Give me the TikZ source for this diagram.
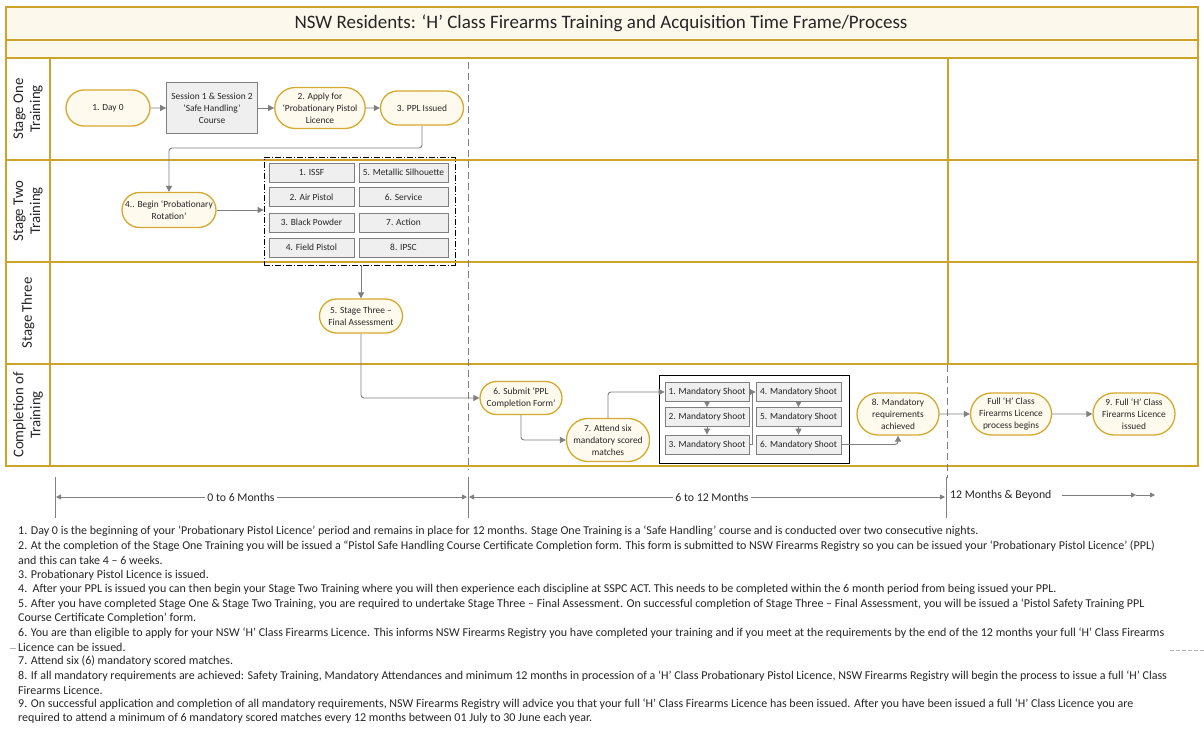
\documentclass[tikz,border=0pt]{standalone}
\usepackage{fontspec}
\usepackage{graphicx}
\setmainfont{Carlito}
\usetikzlibrary{arrows.meta,shapes.misc,calc}
\definecolor{gold}{HTML}{CDA42A}
\definecolor{ngold}{HTML}{D4A930}
\definecolor{cream}{HTML}{FDF8EC}
\definecolor{ncream}{HTML}{FFFAEE}
\definecolor{agray}{HTML}{7F7F7F}
\definecolor{bfill}{HTML}{EFEFEF}
\definecolor{txt}{HTML}{262626}
\tikzset{
  stad/.style={rounded rectangle, draw=ngold, fill=ncream, line width=1.3pt, inner sep=1pt, align=center, text=txt, font=\fontsize{9.4}{12}\selectfont},
  gbox/.style={rectangle, draw=agray, fill=bfill, line width=0.8pt, inner sep=1pt, align=center, text=txt, font=\fontsize{9.4}{12}\selectfont},
  mbox/.style={gbox, minimum height=19pt},
  arr/.style={draw=agray, line width=0.9pt, -{Triangle[length=6pt,width=6pt]}},
  conn/.style={arr, rounded corners=3pt},
  lane/.style={draw=gold, line width=1.7pt},
  lanelbl/.style={rotate=90, align=center, text=txt, font=\fontsize{14.8}{17}\selectfont},
  note/.style={anchor=west, inner sep=0pt, text=txt, font=\fontsize{12}{14}\selectfont},
  tl/.style={text=txt, inner sep=2pt, font=\fontsize{11.8}{13}\selectfont},
  tick/.style={draw=agray, line width=0.6pt},
  tlarr/.style={draw=agray, line width=0.8pt, -{Triangle[length=5pt,width=5pt]}}
}
\begin{document}
\begin{tikzpicture}[x=1pt,y=-1pt]
\useasboundingbox (0,0) rectangle (1204,736);
\fill[white] (0,0) rectangle (1204,736);
% pool
\draw[lane, fill=cream] (6,7) rectangle (1198,40);
\draw[lane, fill=cream] (6,40) rectangle (1198,58);
\node[text=txt, font=\fontsize{19}{21}\selectfont] (title) at (601,23) {NSW Residents: ‘H’ Class Firearms Training and Acquisition Time Frame/Process};
\draw[lane] (6,58) rectangle (1198,466);
\draw[lane] (6,160) -- (1198,160);
\draw[lane] (6,262) -- (1198,262);
\draw[lane] (6,364) -- (1198,364);
\draw[lane] (50,58) -- (50,466);
\draw[lane] (948,58) -- (948,364);
\draw[agray, line width=0.7pt, dash pattern=on 7pt off 4pt] (947,365) -- (947,478);
\draw[agray, line width=0.7pt, dash pattern=on 7pt off 4pt] (468,62) -- (468,470);
\node[lanelbl] (L1) at (28,109) {Stage One\\Training};
\node[lanelbl] (L2) at (28,211) {Stage Two\\Training};
\node[lanelbl] (L3) at (28,313) {Stage Three};
\node[lanelbl] (L4) at (28,415) {Completion of\\Training};
% stage one
\node[stad, minimum width=86pt, minimum height=36pt] (n1) at (108,108) {1. Day 0};
\node[gbox, minimum width=91pt, minimum height=51pt] (sess) at (212,108) {Session 1 \& Session 2\\‘Safe Handling’\\Course};
\node[stad, minimum width=84pt, minimum height=41pt] (n2) at (320,108) {2. Apply for\\‘Probationary Pistol\\Licence};
\node[stad, minimum width=85pt, minimum height=34pt] (n3) at (422,108) {3. PPL Issued};
\draw[arr] (n1) -- (sess);
\draw[arr] (sess) -- (n2);
\draw[arr] (n2) -- (n3);
% stage two
\node[stad, minimum width=96pt, minimum height=35pt] (n4) at (169,210) {4.. Begin ‘Probationary\\Rotation’};
\coordinate (c1) at (0,148);
\draw[conn] (n3.south) -- (n3.south |- c1) -- (n4.north |- c1) -- (n4.north);
\node[draw=black, line width=0.8pt, dash pattern=on 6pt off 2pt on 1pt off 2pt, minimum width=191pt, minimum height=108pt, inner sep=0pt] (grp) at (359.5,211) {};
\foreach \t/\x/\y/\w [count=\i] in {1. ISSF/311.5/172.5/85, 2. Air Pistol/311.5/197/85, 3. Black Powder/311.5/222.5/85, 4. Field Pistol/311.5/247.5/85, 5. Metallic Silhouette/403.5/172.5/89, 6. Service/403.5/197/89, 7. Action/403.5/222.5/89, 8. IPSC/403.5/247.5/89}
  \node[gbox, minimum width=\w pt, minimum height=19pt] (g\i) at (\x,\y) {\t};
\draw[arr] (n4.east) -- (grp.west |- n4.east);
% stage three
\node[stad, minimum width=85pt, minimum height=34pt] (n5) at (361,316) {5. Stage Three –\\Final Assessment};
\draw[arr] (grp.south -| n5) -- (n5.north);
% completion
\node[stad, minimum width=84pt, minimum height=33pt] (n6) at (521,398) {6. Submit ‘PPL\\Completion Form’};
\node[stad, minimum width=85pt, minimum height=43pt] (n7) at (608,440) {7. Attend six\\mandatory scored\\matches};
\draw[conn] (n5.south) |- (n6.west);
\draw[conn] (n6.south) |- (n7.west);
\node[draw=black, line width=0.8pt, minimum width=190pt, minimum height=88pt, inner sep=0pt] (mgrp) at (754,419) {};
\node[mbox, minimum width=84pt] (m1) at (707,392) {1. Mandatory Shoot};
\node[mbox, minimum width=84pt] (m2) at (707,417) {2. Mandatory Shoot};
\node[mbox, minimum width=84pt] (m3) at (707,444.5) {3. Mandatory Shoot};
\node[mbox, minimum width=85pt] (m4) at (798.5,392) {4. Mandatory Shoot};
\node[mbox, minimum width=85pt] (m5) at (798.5,417) {5. Mandatory Shoot};
\node[mbox, minimum width=85pt] (m6) at (798.5,444.5) {6. Mandatory Shoot};
\draw[conn] (n7.north) |- (m1.west);
\draw[arr] (m1) -- (m2);
\draw[arr] (m2) -- (m3);
\draw[arr] (m4) -- (m5);
\draw[arr] (m5) -- (m6);
\coordinate (c2) at (752.5,0);
\draw[arr] (m3.east) -- (m3.east -| c2) -- (m4.west -| c2) -- (m4.west);
\node[stad, minimum width=84pt, minimum height=42pt] (n8) at (898,414) {8. Mandatory\\requirements\\achieved};
\draw[conn] (m6.east) -| (n8.south);
\node[stad, minimum width=74pt, minimum height=42pt] (n9a) at (1011,414) {Full ‘H’ Class\\Firearms Licence\\process begins};
\node[stad, minimum width=84pt, minimum height=42pt] (n9) at (1134,414) {9. Full ‘H’ Class\\Firearms Licence\\issued};
\draw[arr] (n8) -- (n9a);
\draw[arr] (n9a) -- (n9);
% timeline
\draw[tick] (55,477) -- (55,518);
\draw[tick] (468,477) -- (468,518);
\draw[tick] (946,477) -- (946,518);
\node[tl] (t1) at (241,497) {0 to 6 Months};
\node[tl] (t2) at (712,497) {6 to 12 Months};
\node[tl, anchor=west] (t3) at (948,495) {12 Months \& Beyond};
\coordinate (a1) at (56,497);
\coordinate (a2) at (467,497);
\coordinate (a3) at (469,497);
\coordinate (a4) at (945,497);
\coordinate (a5) at (1136,495);
\coordinate (a6) at (1155,495);
\draw[tlarr] (t1.west) -- (a1);
\draw[tlarr] (t1.east) -- (a2);
\draw[tlarr] (t2.west) -- (a3);
\draw[tlarr] (t2.east) -- (a4);
\draw[tlarr] ($(t3.east)+(8,0)$) -- (a5);
\draw[tlarr] (a5) -- (a6);
% small stray marks
\draw[agray!60, line width=0.5pt] (10,648) -- (16,648);
\draw[agray!60, line width=0.5pt, dash pattern=on 4pt off 2pt] (1170,650) -- (1204,650);
% notes
\node[note] (l1) at (18,531) {1. Day 0 is the beginning of your ‘Probationary Pistol Licence’ period and remains in place for 12 months. Stage One Training is a ‘Safe Handling’ course and is conducted over two consecutive nights.};
\node[note] (l2) at (18,546) {2. At the completion of the Stage One Training you will be issued a “Pistol Safe Handling Course Certificate Completion form. This form is submitted to NSW Firearms Registry so you can be issued your ‘Probationary Pistol Licence’ (PPL)};
\node[note] (l2b) at (18,560) {and this can take 4 – 6 weeks.};
\node[note] (l3) at (18,575) {3. Probationary Pistol Licence is issued.};
\node[note] (l4) at (18,589) {4.\ \ After your PPL is issued you can then begin your Stage Two Training where you will then experience each discipline at SSPC ACT. This needs to be completed within the 6 month period from being issued your PPL.};
\node[note] (l5) at (18,604) {5. After you have completed Stage One \& Stage Two Training, you are required to undertake Stage Three – Final Assessment. On successful completion of Stage Three – Final Assessment, you will be issued a ‘Pistol Safety Training PPL};
\node[note] (l5b) at (18,618) {Course Certificate Completion’ form.};
\node[note] (l6) at (18,633) {6. You are than eligible to apply for your NSW ‘H’ Class Firearms Licence. This informs NSW Firearms Registry you have completed your training and if you meet at the requirements by the end of the 12 months your full ‘H’ Class Firearms};
\node[note] (l6b) at (18,647) {Licence can be issued.};
\node[note] (l7) at (18,661) {7. Attend six (6) mandatory scored matches.};
\node[note] (l8) at (18,676) {8. If all mandatory requirements are achieved: Safety Training, Mandatory Attendances and minimum 12 months in procession of a ‘H’ Class Probationary Pistol Licence, NSW Firearms Registry will begin the process to issue a full ‘H’ Class};
\node[note] (l8b) at (18,690) {Firearms Licence.};
\node[note] (l9) at (18,704) {9. On successful application and completion of all mandatory requirements, NSW Firearms Registry will advice you that your full ‘H’ Class Firearms Licence has been issued. After you have been issued a full ‘H’ Class Licence you are};
\node[note] (l9b) at (18,718) {required to attend a minimum of 6 mandatory scored matches every 12 months between 01 July to 30 June each year.};
\end{tikzpicture}
\end{document}
